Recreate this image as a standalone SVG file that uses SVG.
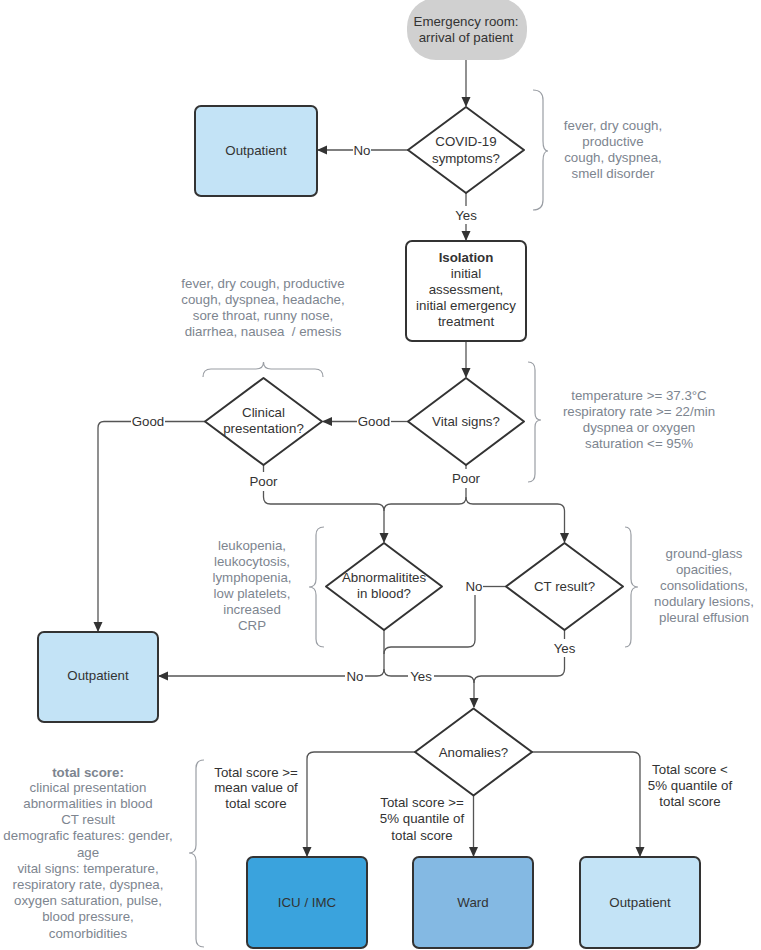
<svg xmlns="http://www.w3.org/2000/svg" width="761" height="950" viewBox="0 0 761 950">
<style>
text{font-family:"Liberation Sans",Arial,sans-serif;font-size:13.3px;text-anchor:middle}
.t{fill:#333}
.b{font-weight:bold}
.g{fill:#7d858f}
.lbl{fill:#333}
.node{stroke:#333;stroke-width:2;stroke-linejoin:round}
.dia{fill:#fff;stroke:#333;stroke-width:2;stroke-linejoin:round}
.c{fill:none;stroke:#555;stroke-width:1.3}
.br{fill:none;stroke:#9a9ea4;stroke-width:1.2}
</style>
<defs>
<marker id="ah" markerUnits="userSpaceOnUse" markerWidth="10" markerHeight="10" refX="9" refY="4.5" orient="auto">
<path d="M0,0 L10,4.5 L0,9 z" fill="#333"/>
</marker>
</defs>

<g id="connectors">
<path class="c" d="M466,60 V106" marker-end="url(#ah)"/>
<path class="c" d="M408,150 H371"/>
<path class="c" d="M353,150 H318" marker-end="url(#ah)"/>
<path class="c" d="M466,193 V206"/>
<path class="c" d="M466,224 V240" marker-end="url(#ah)"/>
<path class="c" d="M466,341 V377" marker-end="url(#ah)"/>
<path class="c" d="M408,421.5 H391"/>
<path class="c" d="M357,421.5 H323" marker-end="url(#ah)"/>
<path class="c" d="M205,421.5 H165"/>
<path class="c" d="M131,421.5 H104 Q98,421.5 98,428 V631" marker-end="url(#ah)"/>
<path class="c" d="M263.5,465 V472"/>
<path class="c" d="M263.5,491 V497 Q263.5,504 270.5,504 H377 Q384,504 384,511 V542" marker-end="url(#ah)"/>
<path class="c" d="M466,465 V469"/>
<path class="c" d="M466,488 V497 Q466,504 459,504 H391 Q384,504 384,511"/>
<path class="c" d="M466,497 Q466,504 473,504 H557.5 Q564.5,504 564.5,511 V542" marker-end="url(#ah)"/>
<path class="c" d="M506,586.5 H483"/>
<path class="c" d="M475,595 V640 Q475,647 468,647 H391 Q384,647 384,654"/>
<path class="c" d="M384,630 V669 Q384,676 377,676 H365"/>
<path class="c" d="M345,676 H159" marker-end="url(#ah)"/>
<path class="c" d="M384,669 Q384,676 391,676 H408"/>
<path class="c" d="M434,676 H467 Q474,676 474,683 V707" marker-end="url(#ah)"/>
<path class="c" d="M564.5,630 V639"/>
<path class="c" d="M564.5,657 V669 Q564.5,676 557.5,676 H481 Q474,676 474,683"/>
<path class="c" d="M415,752 H314 Q307,752 307,759 V856" marker-end="url(#ah)"/>
<path class="c" d="M473.5,795.5 V856" marker-end="url(#ah)"/>
<path class="c" d="M532,752 H633 Q640,752 640,759 V856" marker-end="url(#ah)"/>
<text class="lbl" x="362" y="154.5">No</text>
<text class="lbl" x="466" y="219.5">Yes</text>
<text class="lbl" x="374" y="426">Good</text>
<text class="lbl" x="148" y="426">Good</text>
<text class="lbl" x="263.5" y="485.5">Poor</text>
<text class="lbl" x="466" y="482.5">Poor</text>
<text class="lbl" x="474" y="591">No</text>
<text class="lbl" x="355" y="680.5">No</text>
<text class="lbl" x="421" y="680.5">Yes</text>
<text class="lbl" x="564.5" y="652.5">Yes</text>
<text class="lbl" x="256" y="776.5">Total score &gt;=</text>
<text class="lbl" x="256" y="792">mean value of</text>
<text class="lbl" x="256" y="807.5">total score</text>
<text class="lbl" x="422" y="806.5">Total score &gt;=</text>
<text class="lbl" x="422" y="823">5% quantile of</text>
<text class="lbl" x="422" y="839.5">total score</text>
<text class="lbl" x="690" y="773.5">Total score &lt;</text>
<text class="lbl" x="690" y="789.5">5% quantile of</text>
<text class="lbl" x="690" y="805.5">total score</text>
</g>

<g id="start">
<rect x="407" y="-2" width="120" height="62" rx="29" fill="#d0d0d0"/>
<text class="t" x="466" y="25.5">Emergency room:</text>
<text class="t" x="466" y="41.5">arrival of patient</text>
</g>

<g id="covid">
<path class="dia" d="M466,107 L524,150 L466,193 L408,150 Z"/>
<text class="t" x="466" y="145.5">COVID-19</text>
<text class="t" x="466" y="162.5">symptoms?</text>
</g>

<g id="outpatient1">
<rect class="node" x="195" y="106" width="122" height="90" rx="6" fill="#c3e3f6"/>
<text class="t" x="256" y="155">Outpatient</text>
</g>

<g id="covid-note">
<path class="br" d="M533,90 Q543,90 543,100 V141 Q543,151 548,151 Q543,151 543,161 V200 Q543,210 533,210"/>
<text class="g" x="613" y="129.5">fever, dry cough,</text>
<text class="g" x="613" y="146">productive</text>
<text class="g" x="613" y="162">cough, dyspnea,</text>
<text class="g" x="613" y="177.5">smell disorder</text>
</g>

<g id="isolation">
<rect class="node" x="406" y="241" width="120" height="100" rx="6" fill="#fff"/>
<text class="t b" x="466" y="261.5">Isolation</text>
<text class="t" x="466" y="277.5">initial</text>
<text class="t" x="466" y="293.5">assessment,</text>
<text class="t" x="466" y="309.5">initial emergency</text>
<text class="t" x="466" y="325.5">treatment</text>
</g>

<g id="clinical-note">
<text class="g" x="263" y="287.5">fever, dry cough, productive</text>
<text class="g" x="263" y="303.5">cough, dyspnea, headache,</text>
<text class="g" x="263" y="319.5">sore throat, runny nose,</text>
<text class="g" x="263" y="335.5">diarrhea, nausea&#160; / emesis</text>
<path class="br" d="M203,377 Q203,369 211,369 H256 Q263.5,369 263.5,362 Q263.5,369 271,369 H315 Q323,369 323,377"/>
</g>

<g id="vital">
<path class="dia" d="M466,378 L524,421.5 L466,465 L408,421.5 Z"/>
<text class="t" x="466" y="426">Vital signs?</text>
</g>

<g id="vital-note">
<path class="br" d="M528,362 Q535,362 535,370 V413 Q535,420 541,420 Q535,420 535,427 V474 Q535,482 528,482"/>
<text class="g" x="639" y="400">temperature &gt;= 37.3°C</text>
<text class="g" x="639" y="416">respiratory rate &gt;= 22/min</text>
<text class="g" x="639" y="432">dyspnea or oxygen</text>
<text class="g" x="639" y="448">saturation &lt;= 95%</text>
</g>

<g id="clinical">
<path class="dia" d="M263.5,378 L322,421.5 L263.5,465 L205,421.5 Z"/>
<text class="t" x="263.5" y="416.5">Clinical</text>
<text class="t" x="263.5" y="432.5">presentation?</text>
</g>

<g id="blood">
<path class="dia" d="M384,543 L442,586.5 L384,630 L326,586.5 Z"/>
<text class="t" x="384" y="581.5">Abnormalitites</text>
<text class="t" x="384" y="597.5">in blood?</text>
</g>

<g id="blood-note">
<path class="br" d="M324,527 Q316,527 316,535 V579 Q316,587 309,587 Q316,587 316,595 V639 Q316,647 324,647"/>
<text class="g" x="252" y="549.5">leukopenia,</text>
<text class="g" x="252" y="565.5">leukocytosis,</text>
<text class="g" x="252" y="581.5">lymphopenia,</text>
<text class="g" x="252" y="597.5">low platelets,</text>
<text class="g" x="252" y="613.5">increased</text>
<text class="g" x="252" y="629.5">CRP</text>
</g>

<g id="ct">
<path class="dia" d="M564.5,543 L623,586.5 L564.5,630 L506,586.5 Z"/>
<text class="t" x="564.5" y="591">CT result?</text>
</g>

<g id="ct-note">
<path class="br" d="M625,527 Q631,527 631,535 V579 Q631,587 638,587 Q631,587 631,595 V639 Q631,647 625,647"/>
<text class="g" x="704" y="557.5">ground-glass</text>
<text class="g" x="704" y="573.5">opacities,</text>
<text class="g" x="704" y="589.5">consolidations,</text>
<text class="g" x="704" y="605.5">nodulary lesions,</text>
<text class="g" x="704" y="621.5">pleural effusion</text>
</g>

<g id="outpatient2">
<rect class="node" x="38" y="632" width="120" height="90" rx="6" fill="#c3e3f6"/>
<text class="t" x="98" y="680">Outpatient</text>
</g>

<g id="anomalies">
<path class="dia" d="M473.5,708.5 L532,752 L473.5,795.5 L415,752 Z"/>
<text class="t" x="473.5" y="756.5">Anomalies?</text>
</g>

<g id="score-note">
<path class="br" d="M204,760 Q196,760 196,768 V845 Q196,853 189,853 Q196,853 196,861 V939 Q196,947 204,947"/>
<text class="g b" x="88" y="776.5">total score:</text>
<text class="g" x="88" y="792">clinical presentation</text>
<text class="g" x="88" y="808">abnormalities in blood</text>
<text class="g" x="88" y="824">CT result</text>
<text class="g" x="88" y="840">demografic features: gender,</text>
<text class="g" x="88" y="856.5">age</text>
<text class="g" x="88" y="872.5">vital signs: temperature,</text>
<text class="g" x="88" y="888.5">respiratory rate, dyspnea,</text>
<text class="g" x="88" y="905">oxygen saturation, pulse,</text>
<text class="g" x="88" y="921">blood pressure,</text>
<text class="g" x="88" y="937.5">comorbidities</text>
</g>

<g id="icu">
<rect class="node" x="247" y="857" width="120" height="91" rx="6" fill="#3aa3dd"/>
<text class="t" x="307" y="907">ICU / IMC</text>
</g>

<g id="ward">
<rect class="node" x="413" y="857" width="120" height="91" rx="6" fill="#84b9e3"/>
<text class="t" x="473" y="907">Ward</text>
</g>

<g id="outpatient3">
<rect class="node" x="580" y="857" width="120" height="91" rx="6" fill="#c3e3f6"/>
<text class="t" x="640" y="907">Outpatient</text>
</g>
</svg>
